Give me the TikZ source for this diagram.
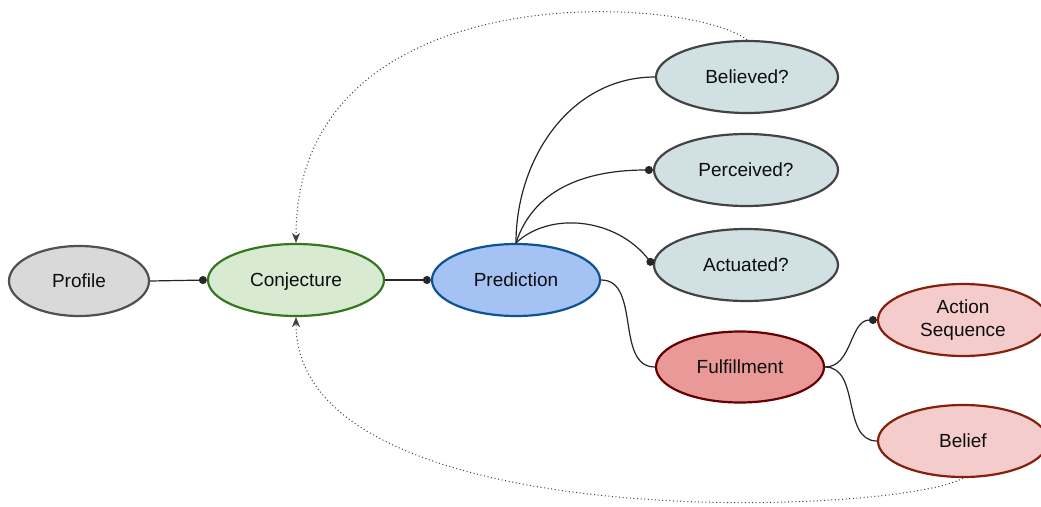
\documentclass[tikz,border=0pt]{standalone}
\usepackage{fontspec}
\setmainfont{Liberation Sans}
\usetikzlibrary{shapes.geometric,arrows.meta}

\definecolor{grayfill}{HTML}{D9D9D9}
\definecolor{graydraw}{HTML}{505050}
\definecolor{greenfill}{HTML}{D9EAD3}
\definecolor{greendraw}{HTML}{38761D}
\definecolor{bluefill}{HTML}{A4C2F4}
\definecolor{bluedraw}{HTML}{0B5394}
\definecolor{cyanfill}{HTML}{D0E0E3}
\definecolor{cyandraw}{HTML}{434343}
\definecolor{redfill}{HTML}{EA9999}
\definecolor{reddraw}{HTML}{660000}
\definecolor{pinkfill}{HTML}{F4CCCC}
\definecolor{pinkdraw}{HTML}{85200C}

\tikzset{
  oval/.style={ellipse, inner sep=0pt, line width=2.2pt, align=center,
    font=\fontsize{19}{23}\selectfont, text=black!95},
  oneline/.style={text height=13.5pt, text depth=0pt},
  profilestyle/.style={oval, oneline, fill=grayfill, draw=graydraw},
  conjstyle/.style={oval, oneline, fill=greenfill, draw=greendraw},
  predstyle/.style={oval, oneline, fill=bluefill, draw=bluedraw},
  checkstyle/.style={oval, oneline, fill=cyanfill, draw=cyandraw},
  fulstyle/.style={oval, oneline, fill=redfill, draw=reddraw},
  outstyle/.style={oval, fill=pinkfill, draw=pinkdraw},
  link/.style={line width=1.2pt, draw=black!85},
  dotend/.style={link, -{Circle[length=8pt]}},
  feedback/.style={line width=1pt, draw=black!75, dash pattern=on 1pt off 2.6pt,
    -{Stealth[length=10pt,width=8pt,inset=3pt]}},
}

\begin{document}
\begin{tikzpicture}[x=1pt, y=-1pt]
  \useasboundingbox (0,0) rectangle (1041,506);
  \clip (0,0) rectangle (1041,506);

  % nodes
  \node[profilestyle, minimum width=140pt, minimum height=70pt] (profile) at (79,281) {Profile};
  \node[conjstyle, minimum width=176pt, minimum height=72pt] (conj) at (296,280) {Conjecture};
  \node[predstyle, minimum width=168pt, minimum height=72pt] (pred) at (516,280) {Prediction};
  \node[checkstyle, minimum width=182pt, minimum height=72pt] (believed) at (747,77) {Believed?};
  \node[checkstyle, minimum width=184pt, minimum height=72pt] (perceived) at (746,170) {Perceived?};
  \node[checkstyle, minimum width=184pt, minimum height=72pt] (actuated) at (746,265) {Actuated?};
  \node[fulstyle, minimum width=168pt, minimum height=71pt] (fulfil) at (740,367) {Fulfillment};
  \node[outstyle, minimum width=170pt, minimum height=72pt] (action) at (963,320) {Action\\Sequence};
  \node[outstyle, minimum width=170pt, minimum height=72pt] (belief) at (963,441) {Belief};

  % main chain
  \draw[dotend] (profile.east) -- (conj.west);
  \draw[dotend] (conj.east) -- (pred.west);

  % checks on the prediction
  \draw[link] (pred.north) to[out=90, in=180] (believed.west);
  \draw[dotend] (pred.north) to[out=72, in=180] (perceived.west);
  \draw[dotend] (pred.north) .. controls +(34,-32) and +(-37,-47) .. (actuated.west);

  % fulfillment branch
  \draw[link] (pred.east) to[out=0, in=180] (fulfil.west);
  \draw[dotend] (fulfil.east) to[out=0, in=180] (action.west);
  \draw[link] (fulfil.east) to[out=0, in=180] (belief.west);

  % feedback loops into the conjecture
  \draw[feedback] (believed.north) .. controls (690,-5) and (296,-30) .. (conj.north);
  \draw[feedback] (belief.south) .. controls (900,515) and (296,540) .. (conj.south);
\end{tikzpicture}
\end{document}
